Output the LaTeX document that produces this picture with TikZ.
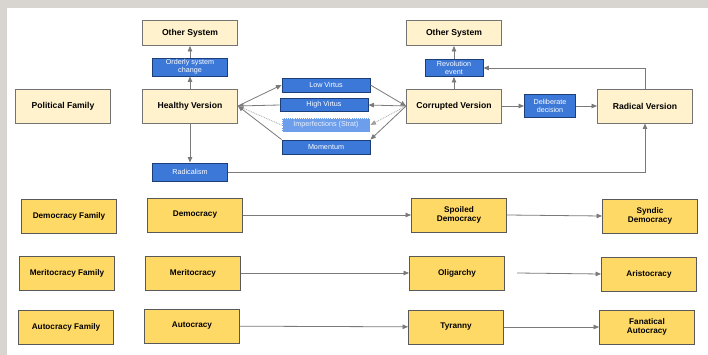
\documentclass[tikz,border=0pt]{standalone}
\usepackage{fontspec}
\setmainfont{Liberation Sans}
\usepackage{xcolor}
\usetikzlibrary{arrows.meta,positioning,calc}
\definecolor{frameg}{HTML}{D8D5D0}
\definecolor{creamf}{HTML}{FFF2CC}
\definecolor{yellf}{HTML}{FFD966}
\definecolor{bluef}{HTML}{3C78D8}
\definecolor{blued}{HTML}{1C3F7A}
\definecolor{lbluef}{HTML}{6D9EEB}
\definecolor{lineg}{HTML}{7A7A7A}
\tikzset{
  cbox/.style={rectangle, draw=black!55, line width=0.9pt, fill=creamf, minimum width=95pt,
               minimum height=34pt, inner sep=1pt, align=center,
               font=\fontsize{8.6}{10}\selectfont\bfseries},
  ybox/.style={rectangle, draw=black!65, line width=0.9pt, fill=yellf, minimum width=95pt,
               minimum height=34pt, inner sep=1pt, align=center,
               font=\fontsize{8.2}{9.5}\selectfont\bfseries},
  bbox/.style={rectangle, draw=blued, line width=0.9pt, fill=bluef, text=white, inner sep=1pt,
               align=center, font=\fontsize{7.2}{8}\selectfont},
  arr/.style={-{Triangle[length=5.5pt,width=4.5pt]}, draw=lineg, line width=0.8pt},
  darr/.style={arr, densely dotted, draw=lineg!70}
}

\begin{document}
\begin{tikzpicture}[x=1pt,y=-1pt]
  \useasboundingbox (0,0) rectangle (708,355);
  \fill[frameg] (0,0) rectangle (708,355);
  \fill[white] (7,8) rectangle (708,355);

  % top part
  \node[cbox] (pf) at (63,106) {Political Family};
  \node[cbox, minimum height=25pt] (os1) at (190,33) {Other System};
  \node[bbox, minimum width=75pt, minimum height=18pt] (osc) at (190,67) {Orderly system\\change};
  \node[cbox] (hv) at (190,106) {Healthy Version};
  \node[bbox, minimum width=75pt, minimum height=18pt] (rad) at (190,172) {Radicalism};
  \node[bbox, minimum width=88pt, minimum height=14pt] (lv) at (326,85) {Low Virtus};
  \node[bbox, minimum width=88pt, minimum height=13pt] (hvi) at (324,105) {High Virtus};
  \node[bbox, fill=lbluef, draw=white, densely dotted, minimum width=88pt, minimum height=14pt,
        text=white!85!lbluef] (imp) at (326,125) {Imperfections (Strat)};
  \node[bbox, minimum width=88pt, minimum height=14pt] (mom) at (326,147) {Momentum};
  \node[cbox, minimum height=25pt] (os2) at (454,33) {Other System};
  \node[bbox, minimum width=58pt, minimum height=17pt] (rev) at (454,68) {Revolution\\event};
  \node[cbox] (cv) at (454,106) {Corrupted Version};
  \node[bbox, minimum width=51pt, minimum height=23pt] (dd) at (550,106) {Deliberate\\decision};
  \node[cbox] (rv) at (645,106) {Radical Version};

  \draw[arr] (hv) -- (osc);
  \draw[arr] (osc) -- (os1);
  \draw[arr] (hv) -- (rad);
  \draw[arr] (cv) -- (rev);
  \draw[arr] (rev) -- (os2);
  \draw[arr] (cv) -- (dd);
  \draw[arr] (dd) -- (rv);
  \draw[arr] (rad.east) -| (rv.south);
  \draw[arr] (rv.north) |- (rev.east);

  \draw[arr] (hv.east) -- (lv.west);
  \draw[arr] (lv.east) -- (cv.west);
  \draw[arr] (hvi.west) -- (hv.east);
  \draw[arr] (cv.west) -- (hvi.east);
  \draw[darr] (imp.west) -- (hv.east);
  \draw[darr] (cv.west) -- (imp.east);
  \draw[arr] (mom.north west) -- (hv.east);
  \draw[arr] (cv.west) -- (mom.north east);

  % families
  \node[ybox] (dfam) at (69,216) {Democracy Family};
  \node[ybox] (dem) at (195,215) {Democracy};
  \node[ybox] (sdem) at (459,215) {Spoiled\\Democracy};
  \node[ybox] (syn) at (650,216) {Syndic\\Democracy};
  \node[ybox] (mfam) at (67,273) {Meritocracy Family};
  \node[ybox] (mer) at (193,273) {Meritocracy};
  \node[ybox] (oli) at (457,273) {Oligarchy};
  \node[ybox] (ari) at (649,274) {Aristocracy};
  \node[ybox] (afam) at (66,327) {Autocracy Family};
  \node[ybox] (aut) at (192,326) {Autocracy};
  \node[ybox] (tyr) at (456,327) {Tyranny};
  \node[ybox] (fan) at (647,327) {Fanatical\\Autocracy};
  \coordinate (olis) at (517,273);

  \draw[arr] (dem) -- (sdem);
  \draw[arr] (sdem.east) -- (syn.west);
  \draw[arr] (mer) -- (oli);
  \draw[arr] (olis) -- (ari.west);
  \draw[arr] (aut) -- (tyr);
  \draw[arr] (tyr.east) -- (fan.west);
\end{tikzpicture}
\end{document}
